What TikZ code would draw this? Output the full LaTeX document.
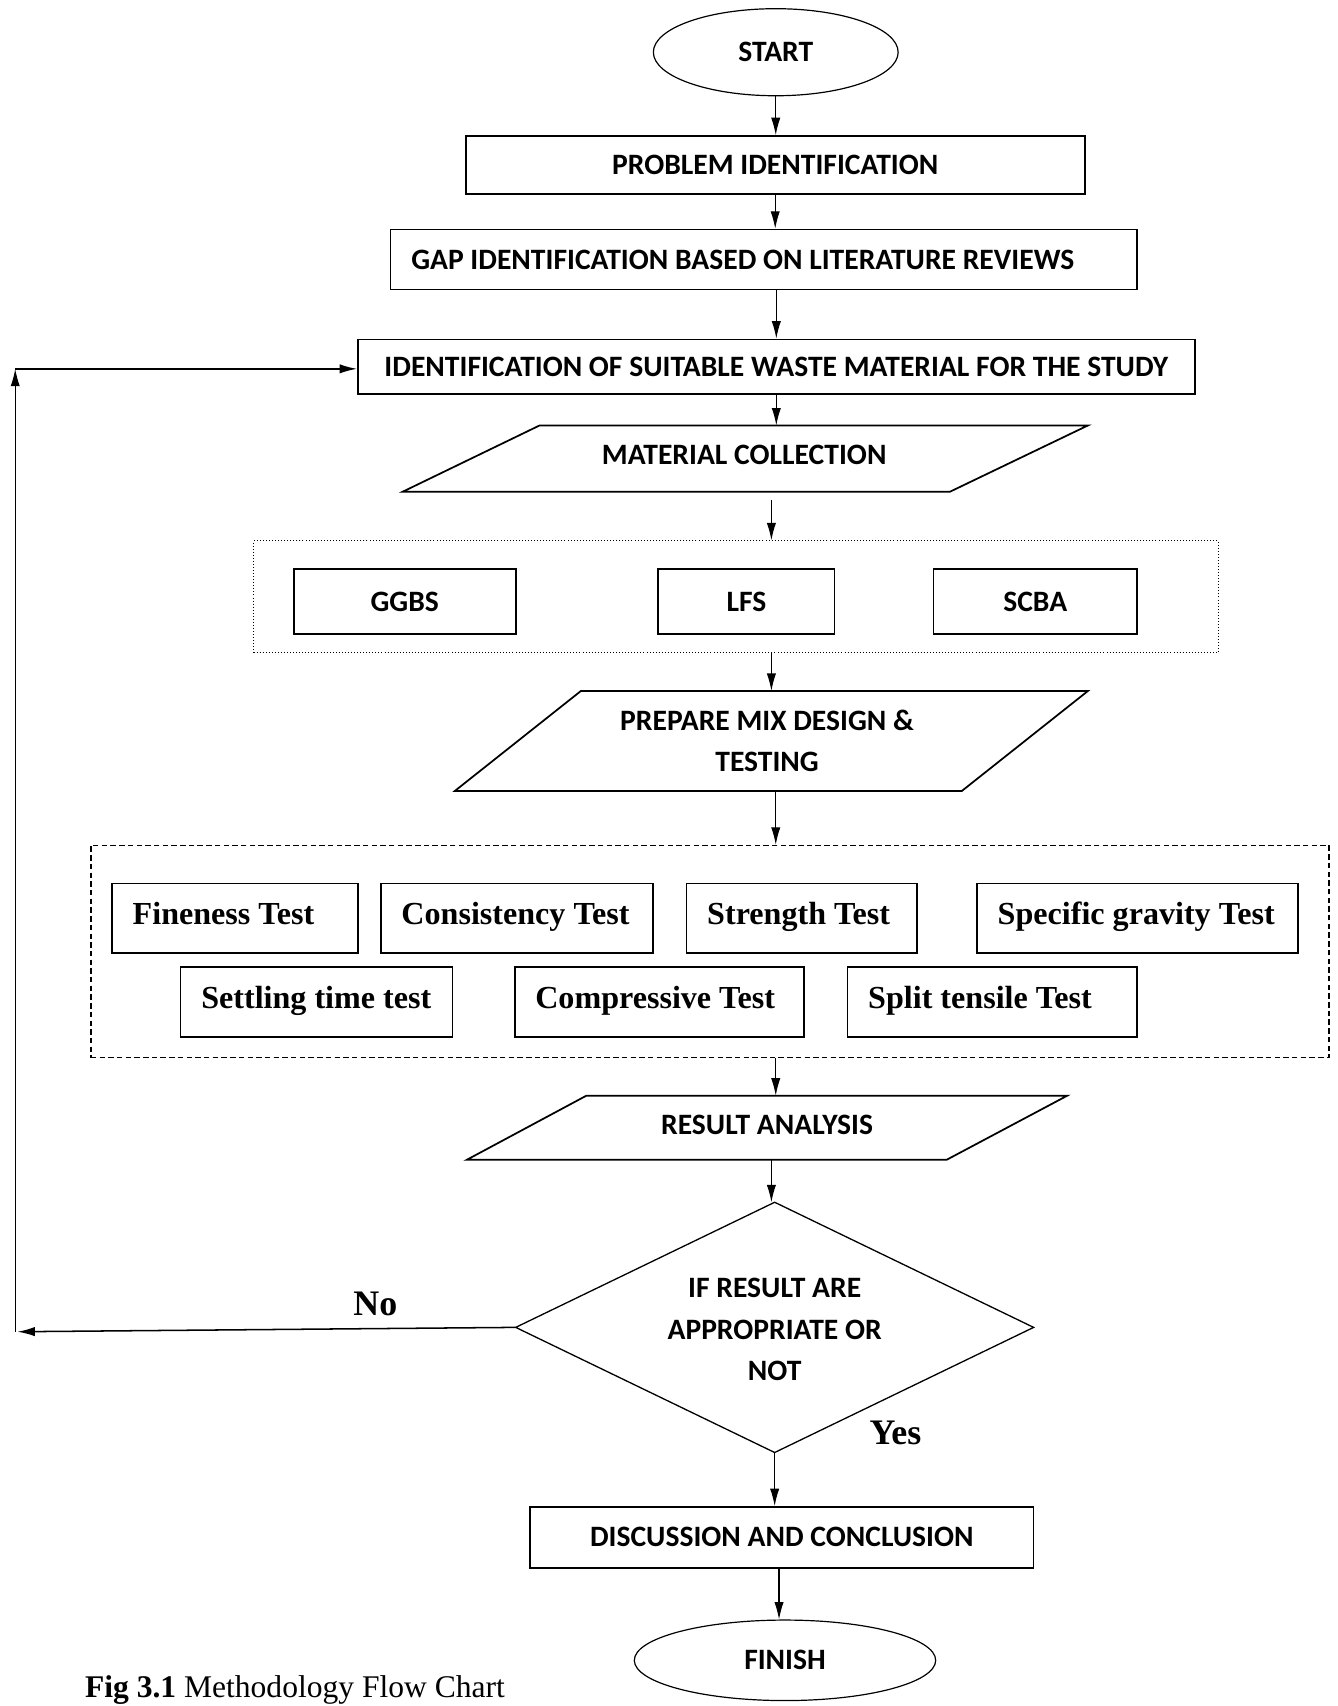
\documentclass[tikz,border=0pt]{standalone}
\usepackage{fontspec}
\setmainfont{Liberation Serif}
\newfontfamily\calfont{Carlito}
\usetikzlibrary{arrows.meta,shapes.geometric}
\begin{document}
\begin{tikzpicture}[x=1pt,y=-1pt,
  lbl/.style={font=\calfont\bfseries\fontsize{27.2}{38}\selectfont},
  box/.style={draw,line width=1.6pt,lbl,inner sep=0pt,align=center},
  oval/.style={draw,ellipse,line width=1.1pt,lbl,inner sep=0pt},
  pgram/.style={draw,line width=1.6pt,line join=miter},
  testbox/.style={draw,line width=1.6pt,font=\bfseries\fontsize{29.5}{34}\selectfont,inner xsep=19pt,inner ysep=0pt,text height=19pt,text depth=7pt,minimum height=64pt,align=flush left},
  arr/.style={line width=1pt,-{Latex[length=16pt,width=8.5pt]}},
  yn/.style={font=\bfseries\fontsize{33}{38}\selectfont}]
\useasboundingbox (0,0) rectangle (1229,1568);
% start
\node[oval,minimum width=225,minimum height=80] (start) at (713,48) {START};
\node[box,minimum width=569,minimum height=53] (prob) at (712.5,151.5) {PROBLEM IDENTIFICATION};
\node[box,text width=648,align=flush left,inner xsep=19pt,minimum height=55] (gap) at (702,238.5) {\mbox{GAP IDENTIFICATION BASED ON LITERATURE REVIEWS}};
\node[box,minimum width=769,minimum height=50] (ident) at (713.5,337) {IDENTIFICATION OF SUITABLE WASTE MATERIAL FOR THE STUDY};
\draw[arr] (start.south) -- (start.south |- prob.north);
\draw[arr] (prob.south) -- (prob.south |- gap.north);
\draw[arr] (gap.south -| ident.north) -- (ident.north);
% material collection
\draw[pgram] (496,391) -- (1000,391) -- (873,452) -- (370,452) -- cycle;
\node[lbl] (mc) at (684,418) {MATERIAL COLLECTION};
\coordinate (mcn) at (713.5,391);
\coordinate (mcs) at (709,460);
\draw[arr] (ident.south) -- (mcn);
% materials group
\node[draw,dotted,line width=0.8pt,minimum width=887,minimum height=103,inner sep=0pt] (grp) at (676.5,548.5) {};
\node[box,minimum width=204,minimum height=60] (ggbs) at (372,553) {GGBS};
\node[box,minimum width=162,minimum height=60] (lfs) at (686,553) {LFS};
\node[box,minimum width=187,minimum height=60] (scba) at (951.5,553) {SCBA};
\draw[arr] (mcs) -- (mcs |- grp.north);
% prepare mix
\draw[pgram] (534,635) -- (1000,635) -- (884,727) -- (418,727) -- cycle;
\node[lbl,align=center] (pm) at (705,681) {PREPARE MIX DESIGN \&\\TESTING};
\coordinate (pmn) at (709,635);
\coordinate (pms) at (713,727);
\draw[arr] (grp.south -| pmn) -- (pmn);
% tests
\node[draw,dash pattern=on 5pt off 3pt,line width=1.2pt,minimum width=1138,minimum height=195,inner sep=0pt] (tests) at (652.5,874.5) {};
\node[testbox,text width=188] (t1) at (216,844) {\mbox{Fineness Test}};
\node[testbox,text width=212] (t2) at (475,844) {\mbox{Consistency Test}};
\node[testbox,text width=174] (t3) at (737,844) {\mbox{Strength Test}};
\node[testbox,text width=257] (t4) at (1045.5,844) {\mbox{Specific gravity Test}};
\node[testbox,text width=212] (t5) at (291,921) {\mbox{Settling time test}};
\node[testbox,text width=228] (t6) at (606,921) {\mbox{Compressive Test}};
\node[testbox,text width=228] (t7) at (912,921) {\mbox{Split tensile Test}};
\draw[arr] (pms) -- (pms |- tests.north);
% result analysis
\draw[pgram] (539,1007) -- (981,1007) -- (870,1066) -- (429,1066) -- cycle;
\node[lbl] (ra) at (705,1034) {RESULT ANALYSIS};
\coordinate (ran) at (713,1007);
\coordinate (ras) at (709,1066);
\draw[arr] (tests.south -| ran) -- (ran);
% decision
\draw[line width=1.2pt] (712,1105) -- (950,1220) -- (712,1335) -- (474,1220) -- cycle;
\node[lbl,align=center,font=\calfont\bfseries\fontsize{27.2}{38}\selectfont] (dec) at (712,1222) {IF RESULT ARE\\APPROPRIATE OR\\NOT};
\coordinate (dtop) at (712,1105);
\coordinate (dleft) at (474,1220);
\coordinate (dbot) at (712,1335);
\draw[arr] (ras) -- (ras |- dtop);
% feedback loop
\coordinate (fbl) at (16,1224);
\coordinate (fbb) at (14,1224);
\coordinate (fbt) at (14,339);
\draw[arr,line width=1.4pt] (dleft) -- (fbl);
\draw[arr] (fbb) -- (fbt);
\draw[arr,line width=1.4pt] (fbt) -- (fbt -| ident.west);
\node[yn] (no) at (345,1198) {No};
\node[yn] (yes) at (823,1317) {Yes};
% discussion
\node[box,minimum width=463,minimum height=56] (disc) at (718.5,1413) {DISCUSSION AND CONCLUSION};
\draw[arr] (dbot) -- (dbot |- disc.north);
\node[oval,minimum width=277,minimum height=74] (finish) at (721.5,1526) {FINISH};
\coordinate (dsc) at (716,1441);
\draw[arr] (dsc) -- (dsc |- finish.north);
% caption
\node[anchor=base west,inner sep=0pt,font=\fontsize{29}{34}\selectfont] (cap) at (78,1560) {\textbf{Fig 3.1} Methodology Flow Chart};
\end{tikzpicture}
\end{document}
